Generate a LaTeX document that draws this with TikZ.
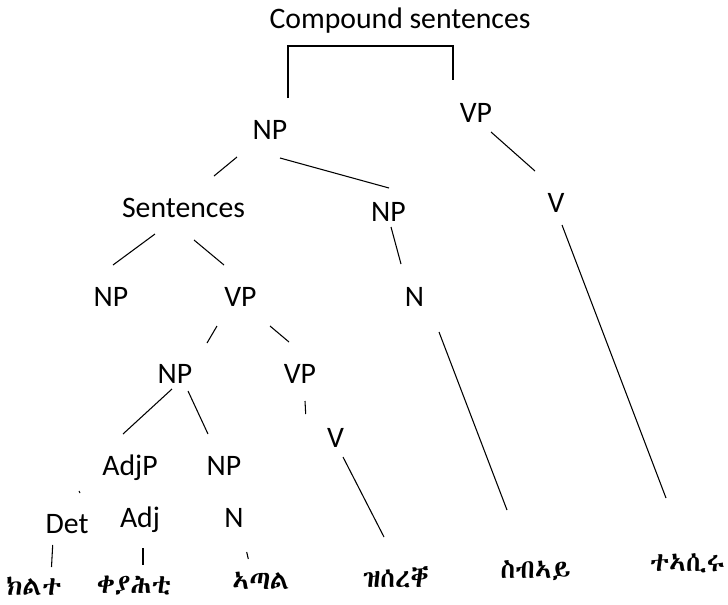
\documentclass[tikz,border=0pt]{standalone}
\usepackage{fontspec}
\setmainfont{Carlito}
\IfFontExistsTF{Abyssinica SIL}{\newfontfamily\ethfont{Abyssinica SIL}}{%
 \IfFontExistsTF{FreeSerif}{\newfontfamily\ethfont{FreeSerif}}{%
  \IfFontExistsTF{FreeSans}{\newfontfamily\ethfont{FreeSans}}{%
   \newfontfamily\ethfont{DejaVu Sans}}}}
\begin{document}
\begin{tikzpicture}[x=0.75pt,y=-0.75pt,
  lbl/.style={anchor=base, inner sep=0pt, font=\fontsize{22.3}{26}\selectfont},
  eth/.style={anchor=base, inner sep=0pt, font=\ethfont\fontsize{20}{26}\selectfont},
  edge/.style={line width=0.8pt},
  brk/.style={line width=1.2pt}]
\useasboundingbox (0,0) rectangle (728,604);
% labels
\node[lbl] (cs) at (400,28) {Compound sentences};
\node[lbl] (np1) at (270,139) {NP};
\node[lbl] (vp1) at (476,122) {VP};
\node[lbl] (v1) at (556,212) {V};
\node[lbl] (sent) at (183.5,217) {Sentences};
\node[lbl] (np2) at (388.5,221) {NP};
\node[lbl] (n1) at (414.5,306) {N};
\node[lbl] (np3) at (111,306) {NP};
\node[lbl] (vp2) at (240.5,306) {VP};
\node[lbl] (np4) at (175,383) {NP};
\node[lbl] (vp3) at (300,383) {VP};
\node[lbl] (v2) at (335.5,447) {V};
\node[lbl] (adjp) at (130,475) {AdjP};
\node[lbl] (np5) at (224,475) {NP};
\node[lbl] (det) at (67,533) {Det};
\node[lbl] (adj) at (140,527) {Adj};
\node[lbl] (n2) at (234,527) {N};
\node[eth] (w1) at (34,595) {ክልተ};
\node[eth] (w2) at (134,593) {ቀያሕቲ};
\node[eth] (w3) at (261,589) {ኣጣል};
\node[eth] (w4) at (396,587) {ዝሰረቐ};
\node[eth] (w5) at (535.5,578) {ስብኣይ};
\node[eth] (w6) at (687.5,571) {ተኣሲሩ};
% connector end points
\coordinate (bl) at (288,98);
\coordinate (br) at (453,80);
\coordinate (bt) at (0,46);
\coordinate (a1) at (237,157);   \coordinate (b1) at (214,176);
\coordinate (a2) at (280,158);   \coordinate (b2) at (389,188);
\coordinate (a3) at (491,132);   \coordinate (b3) at (535,171);
\coordinate (a4) at (562,225);   \coordinate (b4) at (666,498);
\coordinate (a5) at (155,234);   \coordinate (b5) at (113,265);
\coordinate (a6) at (194,240);   \coordinate (b6) at (224,265);
\coordinate (a7) at (391,227);   \coordinate (b7) at (401,264);
\coordinate (a8) at (439,332);   \coordinate (b8) at (507,510);
\coordinate (a9) at (217,326);   \coordinate (b9) at (207,343);
\coordinate (a10) at (270,326);  \coordinate (b10) at (289,342);
\coordinate (a11) at (172,389);  \coordinate (b11) at (123,434);
\coordinate (a12) at (188,391);  \coordinate (b12) at (208,434);
\coordinate (a13) at (305,401);  \coordinate (b13) at (305.7,414);
\coordinate (a14) at (343,457);  \coordinate (b14) at (384,537);
\coordinate (a15) at (79,491);   \coordinate (b15) at (80,493);
\coordinate (a16) at (52.7,545); \coordinate (b16) at (51.5,567);
\coordinate (a17) at (143,548);  \coordinate (b17) at (143,565);
\coordinate (a18) at (246.7,552);\coordinate (b18) at (248.3,559);
% bracket
\draw[brk] (bl) -- (bl |- bt) -- (br |- bt) -- (br);
% tree edges
\foreach \i in {1,...,18} \draw[edge] (a\i) -- (b\i);
\end{tikzpicture}
\end{document}
